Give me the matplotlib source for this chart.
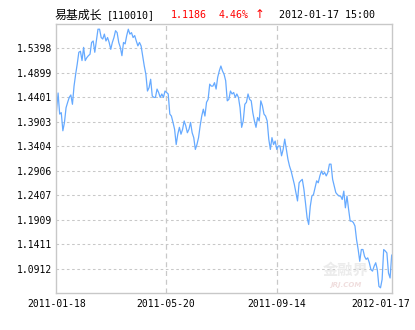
import matplotlib
matplotlib.use("Agg")
import matplotlib.pyplot as plt
import matplotlib.transforms as mtransforms
import numpy as np

# Net value series, 2011-01-18 .. 2012-01-17
nav = [
    1.412, 1.449, 1.406, 1.409, 1.372, 1.389, 1.419, 1.430, 1.440, 1.445,
    1.426, 1.463, 1.487, 1.508, 1.532, 1.534, 1.515, 1.542, 1.515, 1.521,
    1.525, 1.528, 1.552, 1.555, 1.532, 1.555, 1.579, 1.579, 1.562, 1.559,
    1.569, 1.555, 1.562, 1.552, 1.538, 1.552, 1.562, 1.576, 1.572, 1.552,
    1.542, 1.525, 1.552, 1.549, 1.566, 1.579, 1.569, 1.572, 1.562, 1.566,
    1.555, 1.545, 1.552, 1.545, 1.525, 1.504, 1.487, 1.453, 1.460, 1.477,
    1.443, 1.440, 1.440, 1.457, 1.450, 1.440, 1.447, 1.440, 1.453, 1.450,
    1.447, 1.406, 1.402, 1.389, 1.375, 1.344, 1.365, 1.379, 1.365, 1.375,
    1.392, 1.382, 1.368, 1.375, 1.389, 1.368, 1.358, 1.334, 1.344, 1.358,
    1.382, 1.402,
    1.416, 1.402, 1.430, 1.436, 1.467, 1.463, 1.463, 1.470, 1.457, 1.481,
    1.494, 1.504, 1.494, 1.487, 1.474, 1.433, 1.436, 1.453, 1.447, 1.450,
    1.440, 1.447, 1.440, 1.419, 1.379, 1.392, 1.426, 1.430, 1.447, 1.436,
    1.433, 1.409, 1.392, 1.379, 1.399, 1.392, 1.433, 1.423, 1.406, 1.402,
    1.392, 1.355, 1.334, 1.358, 1.344, 1.351, 1.334, 1.341, 1.341, 1.321,
    1.334, 1.355, 1.334, 1.314, 1.300, 1.290, 1.276, 1.263, 1.246, 1.229,
    1.266, 1.270, 1.273, 1.253, 1.225, 1.195, 1.181, 1.218, 1.239, 1.242,
    1.256, 1.270, 1.266, 1.280, 1.290, 1.283, 1.287, 1.280, 1.287, 1.304,
    1.304, 1.273, 1.259, 1.246, 1.242, 1.239, 1.239, 1.232, 1.249, 1.215,
    1.239, 1.212, 1.188, 1.188, 1.185, 1.178, 1.150, 1.130, 1.106, 1.130,
    1.130, 1.116, 1.110, 1.113, 1.103, 1.089, 1.086, 1.096, 1.103, 1.089,
    1.055, 1.052, 1.069, 1.130, 1.127, 1.123, 1.082, 1.072, 1.1186,
]

date_labels = ["2011-01-18", "2011-05-20", "2011-09-14", "2012-01-17"]
date_fracs = [0.0, 0.327, 0.658, 1.0]
y_ticks = [1.0912, 1.1411, 1.1909, 1.2407, 1.2906, 1.3404, 1.3903, 1.4401, 1.4899, 1.5398]
y_min, y_max = 1.0414, 1.5896

title_name = "易基成长"
title_code = "[110010]"
last_value = "1.1186"
last_change = "4.46%"
arrow = "↑"
title_time = "2012-01-17 15:00"

W, H = 415, 330
fig = plt.figure(figsize=(W / 100, H / 100), dpi=100)
fig.patch.set_facecolor("white")
ax = fig.add_axes([56 / W, 1 - 293 / H, (392 - 56) / W, (293 - 24) / H])

n = len(nav)
x = np.arange(n)
ax.plot(x, nav, color="#66aaff", lw=0.9, solid_joinstyle="round")

span = n - 1
ax.set_xlim(-0.3, span + 0.2)
ax.set_ylim(y_min, y_max)

mono = ["DejaVu Sans Mono", "DejaVu Sans"]
ax.set_yticks(y_ticks)
ax.set_yticklabels([f"{v:.4f}" for v in y_ticks], family=mono, fontsize=7)
xt = [f * span for f in date_fracs]
ax.set_xticks(xt)
ax.set_xticklabels(date_labels, family=mono, fontsize=7)
ax.tick_params(length=0, pad=3, colors="black")
ax.tick_params(axis="x", pad=4)

# shift last date label left so it fits
lab = ax.get_xticklabels()[-1]
lab.set_transform(lab.get_transform() + mtransforms.ScaledTranslation(-11 / 100, 0, fig.dpi_scale_trans))

for v in y_ticks:
    ax.axhline(v, color="#c8c8c8", lw=0.75, ls=(0, (2.5, 2.5)), zorder=0)
for f in date_fracs[1:3]:
    ax.axvline(f * span, color="#c8c8c8", lw=0.9, ls=(0, (4, 3)), zorder=0)

for s in ax.spines.values():
    s.set_color("#c8c8c8")
    s.set_linewidth(1.0)

# watermark
fig.text(346 / W, 1 - 270 / H, "金融界", family=["Noto Sans CJK SC"], fontsize=11,
         color="#ececec", ha="center", va="center", weight="bold", zorder=0)
fig.text(346 / W, 1 - 285 / H, "JRJ.COM", family=["DejaVu Sans"], fontsize=5,
         color="#f0dede", ha="center", va="center", style="italic", weight="bold")

ty = 1 - 15 / H
fig.text(55 / W, ty, title_name, family=["Noto Sans CJK SC", "DejaVu Sans"], fontsize=8.6,
         color="black", va="center")
fig.text(107 / W, ty, title_code, family=mono, fontsize=7.2, color="black", va="center")
fig.text(171 / W, ty, last_value, family=mono, fontsize=7.2, color="red", va="center")
fig.text(219 / W, ty, last_change, family=mono, fontsize=7.2, color="red", va="center")
fig.text(255 / W, ty, arrow, family=["DejaVu Sans"], fontsize=8.5, color="red", va="center")
fig.text(279 / W, ty, title_time, family=mono, fontsize=7.2, color="black", va="center")

fig.savefig("out.png", dpi=100)
